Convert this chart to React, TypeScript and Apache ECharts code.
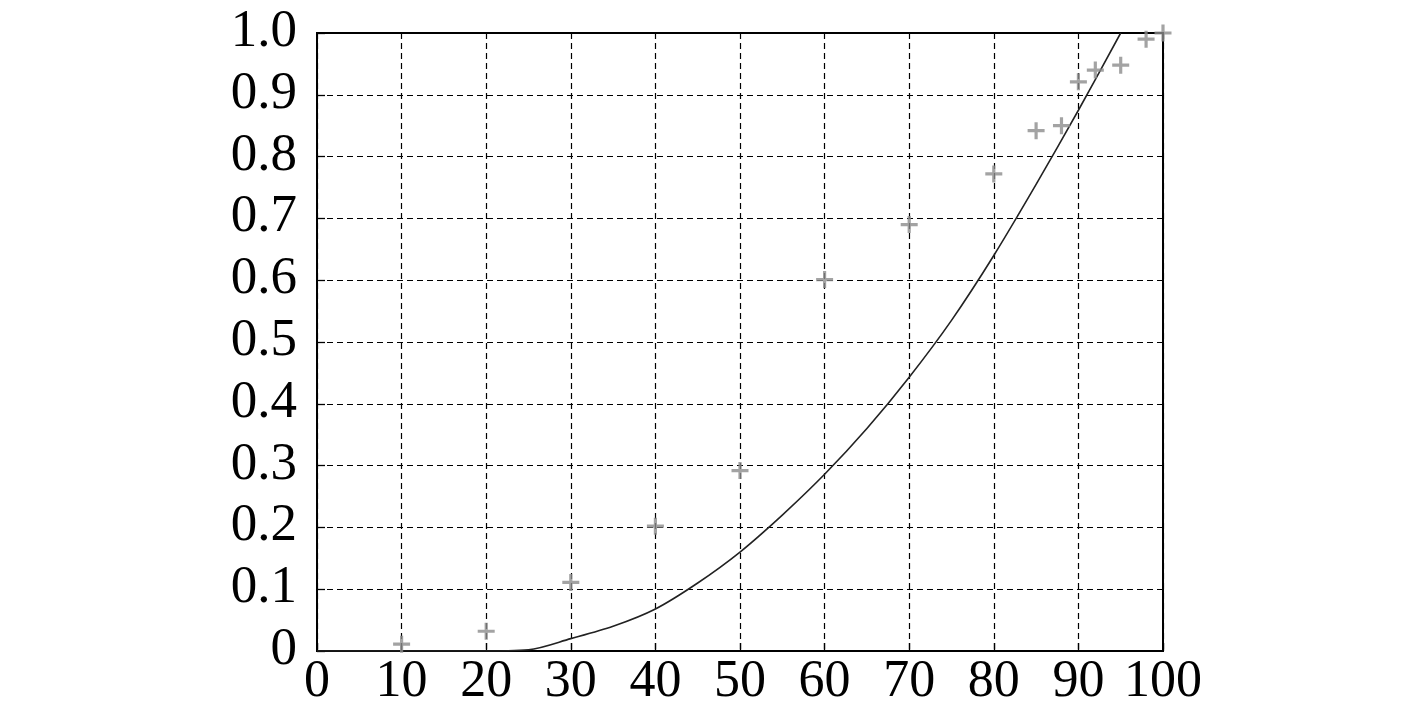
import React, { useEffect, useRef } from "react";
import * as echarts from "echarts";

const xTicks = [0, 10, 20, 30, 40, 50, 60, 70, 80, 90, 100];
const yTicks = [0, 0.1, 0.2, 0.3, 0.4, 0.5, 0.6, 0.7, 0.8, 0.9, 1.0];

// measured points (+ markers)
const pointX = [10, 20, 30, 40, 50, 60, 70, 80, 85, 88, 90, 92, 95, 98, 100];
const pointY = [0.011, 0.032, 0.111, 0.202, 0.292, 0.601, 0.69, 0.772, 0.842, 0.85, 0.921, 0.94, 0.948, 0.99, 1.0];

// fitted curve
const curveX = [0, 10, 20, 25, 30, 35, 40, 45, 50, 55, 60, 65, 70, 75, 80, 85, 90, 95];
const curveY = [0, 0, 0, 0.002, 0.02, 0.04, 0.068, 0.11, 0.16, 0.22, 0.286, 0.36, 0.443, 0.535, 0.64, 0.755, 0.875, 1.0];

const plusPath = "path://M6.5,0H9.5V6.5H16V9.5H9.5V16H6.5V9.5H0V6.5H6.5Z";

export default function App() {
  const ref = useRef<HTMLDivElement>(null);
  useEffect(() => {
    if (!ref.current) return;
    const chart = echarts.init(ref.current, undefined, { renderer: "svg" });
    const font = "'Liberation Serif', 'Times New Roman', serif";
    chart.setOption({
      animation: false,
      backgroundColor: "#ffffff",
      grid: {
        left: 317,
        right: 254,
        top: 33,
        bottom: 55,
        show: true,
        borderColor: "#000",
        borderWidth: 2,
        backgroundColor: "transparent",
      },
      xAxis: {
        type: "value",
        min: 0,
        max: 100,
        interval: 10,
        axisLine: { show: true, lineStyle: { color: "#000", width: 2 } },
        axisTick: { show: true, inside: true, length: 8, lineStyle: { color: "#000", width: 1.3 } },
        axisLabel: {
          color: "#000",
          fontFamily: font,
          fontSize: 52,
          margin: 2,
          lineHeight: 50,
          formatter: (v: number) => String(v),
        },
        splitLine: { show: true, lineStyle: { color: "#000", width: 1.2, type: [6, 4] } },
      },
      yAxis: {
        type: "value",
        min: 0,
        max: 1,
        interval: 0.1,
        axisLine: { show: true, lineStyle: { color: "#000", width: 2 } },
        axisTick: { show: true, inside: true, length: 8, lineStyle: { color: "#000", width: 1.3 } },
        axisLabel: {
          color: "#000",
          fontFamily: font,
          fontSize: 53,
          margin: 20,
          verticalAlign: "bottom",
          lineHeight: 10,
          showMinLabel: true,
          showMaxLabel: true,
          formatter: (v: number) => {
            const t = yTicks.find((k) => Math.abs(k - v) < 1e-6);
            const val = t === undefined ? v : t;
            return val === 0 ? "0" : val.toFixed(1);
          },
        },
        splitLine: { show: true, lineStyle: { color: "#000", width: 1.2, type: [6, 4] } },
      },
      series: [
        {
          type: "line",
          data: curveX.map((x, i) => [x, curveY[i]]),
          smooth: 0.3,
          showSymbol: false,
          lineStyle: { color: "#222", width: 1.6 },
          z: 3,
        },
        {
          type: "scatter",
          data: pointX.map((x, i) => [x, pointY[i]]),
          symbol: plusPath,
          symbolSize: 17,
          itemStyle: { color: "#8c8c8c" },
          z: 4,
        },
      ],
    });
    return () => chart.dispose();
  }, []);
  return <div ref={ref} style={{ width: 1417, height: 706, position: "absolute", left: 0, top: 0 }} />;
}
